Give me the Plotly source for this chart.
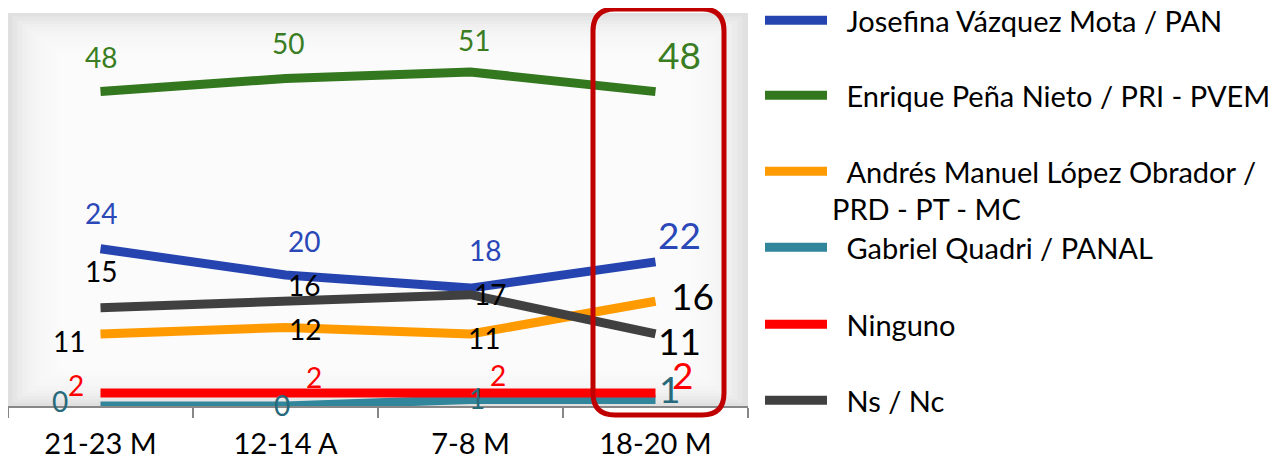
import plotly.graph_objects as go

categories = ["21-23 M", "12-14 A", "7-8 M", "18-20 M"]

series_names = [
    "Josefina Vázquez Mota / PAN",
    "Enrique Peña Nieto / PRI - PVEM",
    "Andrés Manuel López Obrador /<br>PRD - PT - MC",
    "Gabriel Quadri / PANAL",
    "Ninguno",
    "Ns / Nc",
]
vazquez_mota = [24, 20, 18, 22]
pena_nieto = [48, 50, 51, 48]
lopez_obrador = [11, 12, 11, 16]
quadri = [0, 0, 1, 1]
ninguno = [2, 2, 2, 2]
ns_nc = [15, 16, 17, 11]
series_values = [vazquez_mota, pena_nieto, lopez_obrador, quadri, ninguno, ns_nc]

# styles (not data)
line_colors = ["#2644B0", "#33781E", "#FF9A00", "#31869B", "#FF0000", "#404040"]
label_colors = ["#2A48B8", "#3A7D22", "#000000", "#276A7C", "#FF0000", "#000000"]
# label offsets in px (xshift, yshift) per point
label_offsets = [
    [(0, 36), (18, 34), (14, 38), (24, 27)],
    [(0, 35), (2, 36), (3, 32), (24, 37)],
    [(-32, -7), (19, -2), (13, -4), (37, 6)],
    [(-41, 5), (-4, 1), (6, 1), (14, 11)],
    [(-25, 8), (28, 16), (27, 18), (27, 18)],
    [(0, 37), (18, 16), (19, 1), (24, -7)],
]
# page has an 8px body margin; figure coordinates are page coordinates minus 8
OFF = 8
FIG_W, FIG_H = 1276 - OFF, 460 - OFF
PLOT_L, PLOT_R, PLOT_T, PLOT_B = 8 - OFF, 748 - OFF, 13 - OFF, 406 - OFF
# legend entry vertical centres (page px from top) of the first text line
legend_centres = [22, 97, 173, 249, 326, 402]
FONT = "Lato"

fig = go.Figure()
legend_layouts = {}
for k, (name, vals, col) in enumerate(zip(series_names, series_values, line_colors)):
    lname = "legend" if k == 0 else f"legend{k + 1}"
    fig.add_trace(go.Scatter(
        x=categories, y=vals, mode="lines", name="\u2002" + name, legend=lname,
        line=dict(color=col, width=9), hoverinfo="skip",
    ))
    top_fig = legend_centres[k] - OFF - 27
    legend_layouts[lname] = dict(
        xref="paper", yref="paper",
        x=(760 - OFF - PLOT_L) / (PLOT_R - PLOT_L), xanchor="left",
        y=(PLOT_B - top_fig) / (PLOT_B - PLOT_T), yanchor="top",
        font=dict(family=FONT, size=29, color="black"),
        itemwidth=62, valign="top", bgcolor="rgba(0,0,0,0)",
    )

annotations = []
for vals, lc, offs in zip(series_values, label_colors, label_offsets):
    for i, (cat, v) in enumerate(zip(categories, vals)):
        big = i == len(categories) - 1
        annotations.append(dict(
            x=cat, y=v, xref="x", yref="y", text=str(v), showarrow=False,
            xshift=offs[i][0], yshift=offs[i][1],
            font=dict(family=FONT, size=37 if big else 28, color=lc),
        ))

shapes = []
# gradient-like background: white translucent nested rectangles
n = 12
for k in range(n):
    t = k / n
    shapes.append(dict(
        type="rect", xref="x domain", yref="y domain", layer="below",
        x0=0.0 + t * 0.075, x1=1.0 - t * 0.085,
        y0=0.0 + t * 0.10, y1=1.0 - t * 0.11,
        fillcolor="white", opacity=0.2, line=dict(width=0),
    ))

# rounded highlight rectangle around last category (in axis-domain fractions, page px input)
def px_x(p):
    return (p - 8) / 740.0

def px_y(p):
    return (406 - p) / 393.0

x0, x1, y0, y1, r = 593, 724, 9, 415, 22
path = (
    f"M {px_x(x0 + r)},{px_y(y0)} L {px_x(x1 - r)},{px_y(y0)} "
    f"Q {px_x(x1)},{px_y(y0)} {px_x(x1)},{px_y(y0 + r)} "
    f"L {px_x(x1)},{px_y(y1 - r)} Q {px_x(x1)},{px_y(y1)} {px_x(x1 - r)},{px_y(y1)} "
    f"L {px_x(x0 + r)},{px_y(y1)} Q {px_x(x0)},{px_y(y1)} {px_x(x0)},{px_y(y1 - r)} "
    f"L {px_x(x0)},{px_y(y0 + r)} Q {px_x(x0)},{px_y(y0)} {px_x(x0 + r)},{px_y(y0)} Z"
)
shapes.append(dict(type="path", xref="x domain", yref="y domain", path=path,
                   line=dict(color="#C00000", width=5), layer="above"))

fig.update_layout(
    width=FIG_W, height=FIG_H,
    margin=dict(l=PLOT_L, r=FIG_W - PLOT_R, t=PLOT_T, b=FIG_H - PLOT_B,
                autoexpand=False),
    paper_bgcolor="white", plot_bgcolor="#D9D9D9",
    font=dict(family=FONT, size=28, color="black"),
    showlegend=True,
    xaxis=dict(
        type="category", range=[-0.5, 3.5], tickson="boundaries",
        ticks="outside", ticklen=10, tickcolor="#878787", tickwidth=1.5,
        showline=True, linecolor="#878787", linewidth=1.5,
        showgrid=False, zeroline=False, ticklabelstandoff=11,
        tickfont=dict(family=FONT, size=29, color="black"),
    ),
    yaxis=dict(range=[0, 60], visible=False, showgrid=False, zeroline=False),
    annotations=annotations,
    shapes=shapes,
    **legend_layouts,
)

fig.write_html("out.html")
